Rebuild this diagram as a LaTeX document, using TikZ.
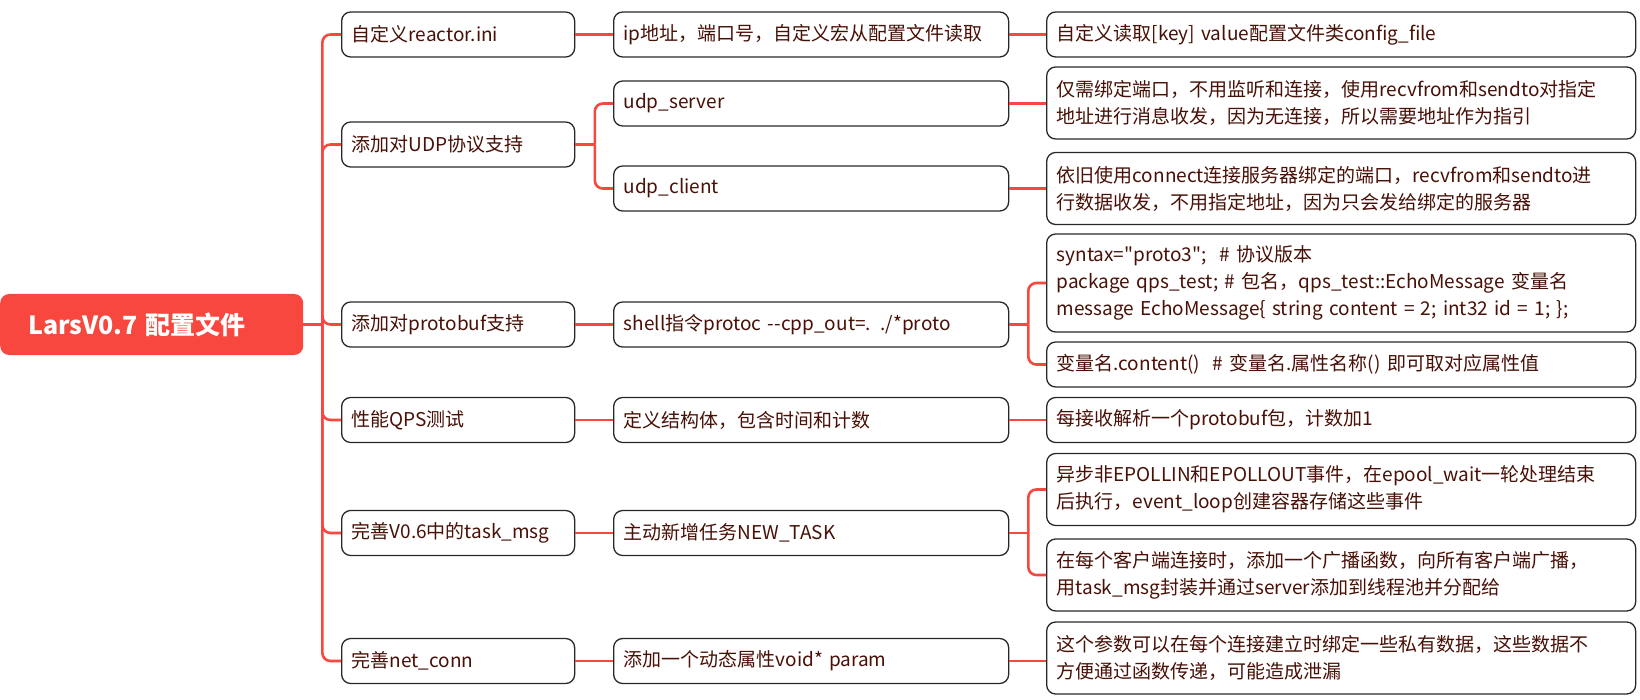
\documentclass[tikz,border=0pt]{standalone}
\usepackage{fontspec}
\setmainfont{Noto Sans CJK SC}[Ligatures=TeXOff]
\definecolor{lred}{RGB}{248,71,63}
\definecolor{txt}{RGB}{72,16,6}
\definecolor{bord}{RGB}{40,40,40}
\begin{document}
\begin{tikzpicture}[x=1pt,y=-1pt,
  bx/.style={draw=bord, line width=1.3pt, rounded corners=9pt, fill=white, anchor=west,
    inner xsep=10pt, inner ysep=0pt, align=left, text=txt,
    font=\fontsize{19}{27}\selectfont},
  l1/.style={bx, text width=213pt, minimum height=45pt},
  l2/.style={bx, text width=375pt, minimum height=45pt},
  l3/.style={bx, text width=569pt},
  conn/.style={draw=lred, line width=2.6pt, rounded corners=8pt},
  rootbox/.style={fill=lred, rounded corners=9pt, minimum width=303pt, minimum height=61pt,
    anchor=west, text=white, inner xsep=28pt, text width=247pt, align=left,
    font=\fontsize{25}{30}\selectfont\bfseries}]
\useasboundingbox (0,0) rectangle (1640,700);

% root
\node[rootbox] (root) at (0,324.5) {LarsV0.7 配置文件};

% level 1
\node[l1] (r1) at (341,34.5) {自定义reactor.ini};
\node[l1] (u)  at (341,144.5) {添加对UDP协议支持};
\node[l1] (p)  at (341,324.5) {添加对protobuf支持};
\node[l1] (q)  at (341,420) {性能QPS测试};
\node[l1] (t)  at (341,533) {完善V0.6中的task\_msg};
\node[l1] (n)  at (341,661) {完善net\_conn};

% level 2
\node[l2] (ip)   at (613,34.5) {ip地址，端口号，自定义宏从配置文件读取};
\node[l2] (us)   at (613,103.5) {udp\_server};
\node[l2] (uc)   at (613,188.5) {udp\_client};
\node[l2] (sh)   at (613,324.5) {shell指令protoc -{}-cpp\_out=. ./*proto};
\node[l2] (def)  at (613,420) {定义结构体，包含时间和计数};
\node[l2] (mt)   at (613,533) {主动新增任务NEW\_TASK};
\node[l2] (dyn)  at (613,661) {添加一个动态属性void* param};

% level 3
\node[l3, minimum height=45pt] (cf) at (1046,34.5) {自定义读取[key] value配置文件类config\_file};
\node[l3, minimum height=72pt] (s1) at (1046,103) {仅需绑定端口，不用监听和连接，使用recvfrom和sendto对指定\\地址进行消息收发，因为无连接，所以需要地址作为指引};
\node[l3, minimum height=72pt] (s2) at (1046,188.5) {依旧使用connect连接服务器绑定的端口，recvfrom和sendto进\\行数据收发，不用指定地址，因为只会发给绑定的服务器};
\node[l3, minimum height=98pt] (pb1) at (1046,283) {syntax="proto3";\ \ \# 协议版本\\package qps\_test;\ \# 包名，qps\_test::EchoMessage 变量名\\message EchoMessage\{ string content = 2; int32 id = 1; \};};
\node[l3, minimum height=45pt] (pb2) at (1046,364.5) {变量名.content()\ \ \# 变量名.属性名称() 即可取对应属性值};
\node[l3, minimum height=45pt] (cnt) at (1046,420) {每接收解析一个protobuf包，计数加1};
\node[l3, minimum height=72pt] (e1) at (1046,489.5) {异步非EPOLLIN和EPOLLOUT事件，在epool\_wait一轮处理结束\\后执行，event\_loop创建容器存储这些事件};
\node[l3, minimum height=72pt] (e2) at (1046,575) {在每个客户端连接时，添加一个广播函数，向所有客户端广播，\\用task\_msg封装并通过server添加到线程池并分配给};
\node[l3, minimum height=72pt] (nc) at (1046,658) {这个参数可以在每个连接建立时绑定一些私有数据，这些数据不\\方便通过函数传递，可能造成泄漏};

% connectors: root trunk
\coordinate (tj) at ([xshift=19pt]root.east);
\draw[conn] (root.east) -- (tj);
\foreach \c in {r1,u,p,q,t,n} { \draw[conn] (tj) |- (\c.west); }

% level 1 -> level 2
\draw[conn] (r1.east) -- (ip.west);
\coordinate (uj) at ([xshift=19.5pt]u.east);
\draw[conn] (u.east) -- (uj);
\draw[conn] (uj) |- (us.west);
\draw[conn] (uj) |- (uc.west);
\draw[conn] (p.east) -- (sh.west);
\draw[conn] (q.east) -- (def.west);
\draw[conn] (t.east) -- (mt.west);
\draw[conn] (n.east) -- (dyn.west);

% level 2 -> level 3
\draw[conn] (ip.east) -- (cf.west);
\draw[conn] (us.east) -- (us.east -| s1.west);
\draw[conn] (uc.east) -- (s2.west);
\coordinate (sj) at ([xshift=19pt]sh.east);
\draw[conn] (sh.east) -- (sj);
\draw[conn] (sj) |- (pb1.west);
\draw[conn] (sj) |- (pb2.west);
\draw[conn] (def.east) -- (cnt.west);
\coordinate (mj) at ([xshift=19pt]mt.east);
\draw[conn] (mt.east) -- (mj);
\draw[conn] (mj) |- (e1.west);
\draw[conn] (mj) |- (e2.west);
\draw[conn] (dyn.east) -- (dyn.east -| nc.west);
\end{tikzpicture}
\end{document}
